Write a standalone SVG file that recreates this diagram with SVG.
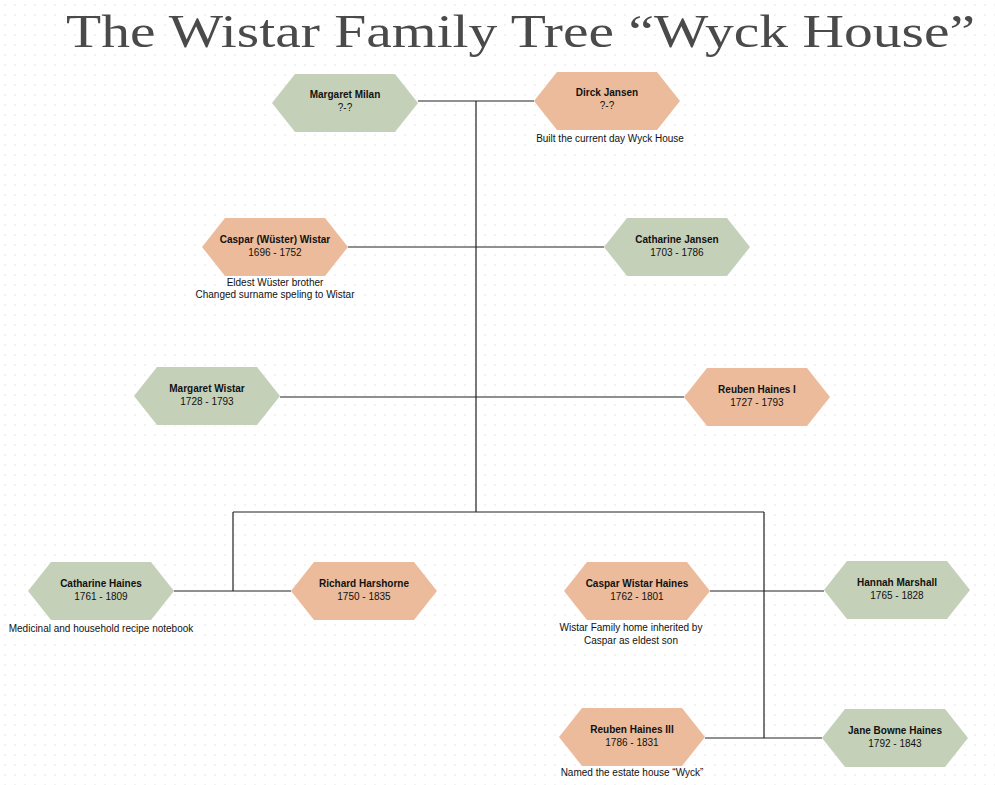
<svg xmlns="http://www.w3.org/2000/svg" width="995" height="785" viewBox="0 0 995 785">
<style>
.g{fill:#c5d0b9}.o{fill:#ebbb9b}
.n{font-family:"Liberation Sans",Arial,sans-serif;font-size:10px;text-anchor:middle;fill:#111}
.b{font-weight:bold}
.c{stroke:#222;stroke-width:1.2;fill:none}
</style>
<defs>
<pattern id="dots" width="10" height="10" patternUnits="userSpaceOnUse"><circle cx="5" cy="5" r="0.8" fill="#e2e2e2"/></pattern>
<path id="hex" d="M-73 0L-50-29H50L73 0L50 29H-50Z"/>
</defs>
<rect width="995" height="785" fill="#fff"/>
<rect width="995" height="785" fill="url(#dots)"/>
<text x="66" y="47" font-family="Liberation Serif,serif" font-size="46" fill="#4a4a4a" textLength="909" lengthAdjust="spacingAndGlyphs">The Wistar Family Tree “Wyck House”</text>
<g id="connectors" class="c">
<path d="M418 101H534M476 101V512M348 247H604M280 397H684M233 512H764M233 512V591M174 591H291M764 512V738M710 591H824M705 738H822"/>
</g>
<g id="margaret-milan"><use href="#hex" x="345" y="103" class="g"/><text class="n b" x="345" y="98">Margaret Milan</text><text class="n" x="345" y="111">?-?</text></g>
<g id="dirck-jansen"><use href="#hex" x="607" y="101" class="o"/><text class="n b" x="607" y="96">Dirck Jansen</text><text class="n" x="607" y="109">?-?</text><text class="n" x="610" y="142" font-size="9">Built the current day Wyck House</text></g>
<g id="caspar-wistar"><use href="#hex" x="275" y="247" class="o"/><text class="n b" x="275" y="243">Caspar (Wüster) Wistar</text><text class="n" x="275" y="256">1696 - 1752</text><text class="n" x="275" y="286" font-size="9">Eldest Wüster brother</text><text class="n" x="275" y="298" font-size="9">Changed surname speling to Wistar</text></g>
<g id="catharine-jansen"><use href="#hex" x="677" y="247" class="g"/><text class="n b" x="677" y="243">Catharine Jansen</text><text class="n" x="677" y="256">1703 - 1786</text></g>
<g id="margaret-wistar"><use href="#hex" x="207" y="396" class="g"/><text class="n b" x="207" y="392">Margaret Wistar</text><text class="n" x="207" y="405">1728 - 1793</text></g>
<g id="reuben-haines-i"><use href="#hex" x="757" y="397" class="o"/><text class="n b" x="757" y="393">Reuben Haines I</text><text class="n" x="757" y="406">1727 - 1793</text></g>
<g id="catharine-haines"><use href="#hex" x="101" y="591" class="g"/><text class="n b" x="101" y="587">Catharine Haines</text><text class="n" x="101" y="600">1761 - 1809</text><text class="n" x="101" y="632" font-size="9">Medicinal and household recipe notebook</text></g>
<g id="richard-harshorne"><use href="#hex" x="364" y="591" class="o"/><text class="n b" x="364" y="587">Richard Harshorne</text><text class="n" x="364" y="600">1750 - 1835</text></g>
<g id="caspar-wistar-haines"><use href="#hex" x="637" y="591" class="o"/><text class="n b" x="637" y="587">Caspar Wistar Haines</text><text class="n" x="637" y="600">1762 - 1801</text><text class="n" x="631" y="631" font-size="9">Wistar Family home inherited by</text><text class="n" x="631" y="644" font-size="9">Caspar as eldest son</text></g>
<g id="hannah-marshall"><use href="#hex" x="897" y="590" class="g"/><text class="n b" x="897" y="586">Hannah Marshall</text><text class="n" x="897" y="599">1765 - 1828</text></g>
<g id="reuben-haines-iii"><use href="#hex" x="632" y="737" class="o"/><text class="n b" x="632" y="733">Reuben Haines III</text><text class="n" x="632" y="746">1786 - 1831</text><text class="n" x="632" y="776" font-size="9">Named the estate house “Wyck”</text></g>
<g id="jane-bowne-haines"><use href="#hex" x="895" y="738" class="g"/><text class="n b" x="895" y="734">Jane Bowne Haines</text><text class="n" x="895" y="747">1792 - 1843</text></g>
</svg>
